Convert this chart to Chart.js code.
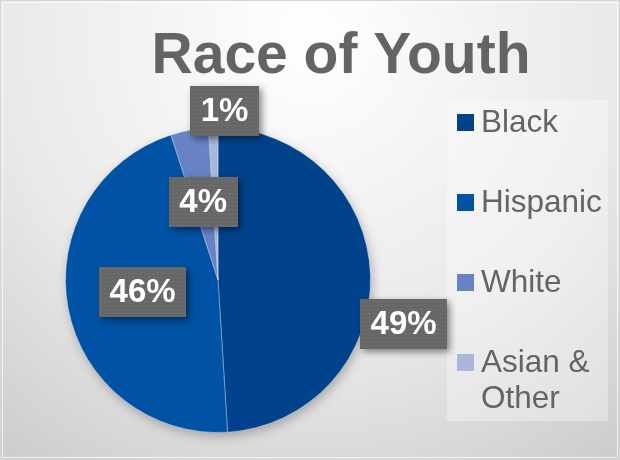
<!DOCTYPE html>
<html>
<head>
<meta charset="utf-8">
<script src="https://cdn.jsdelivr.net/npm/chart.js@4/dist/chart.umd.min.js"></script>
<style>
  body { margin: 0; background: #fff; }
  #wrap { width: 620px; height: 460px; }
</style>
</head>
<body>
<div id="wrap"><canvas id="pieChart" width="620" height="460"></canvas></div>
<script>
// chart data
var chartTitle = 'Race of Youth';
var categories = ['Black', 'Hispanic', 'White', 'Asian & Other'];
var shares = [49, 46, 4, 1];
var sliceColors = ['#00428b', '#0052a4', '#6783c4', '#a9b7db'];

var fontName = '"Liberation Sans", Arial, sans-serif';
var greyText = '#646464';

// where the % boxes sit: fraction of radius + angle shift (deg) from slice middle
var labelPlace = [
    { r: 1.25, shift: 15 },
    { r: 0.50, shift: 2 },
    { r: 0.52, shift: 0 },
    { r: 1.11, shift: 4 }
];

// dotted grey fill for the label boxes
function dotPattern(ctx) {
    var p = document.createElement('canvas');
    p.width = 4; p.height = 4;
    var pc = p.getContext('2d');
    pc.fillStyle = '#676767';
    pc.fillRect(0, 0, 4, 4);
    pc.fillStyle = '#7b7b7b';
    pc.fillRect(1, 1, 1, 1);
    return ctx.createPattern(p, 'repeat');
}

function wrapText(ctx, text, maxW) {
    var words = text.split(' ');
    var lines = [];
    var cur = '';
    for (var i = 0; i < words.length; i++) {
        var test = cur ? cur + ' ' + words[i] : words[i];
        if (cur && ctx.measureText(test).width > maxW) {
            lines.push(cur);
            cur = words[i];
        } else {
            cur = test;
        }
    }
    lines.push(cur);
    return lines;
}

var backdrop = {
    id: 'backdrop',
    beforeDraw: function(chart) {
        var ctx = chart.ctx;
        var w = chart.width, h = chart.height;
        ctx.save();
        var g = ctx.createRadialGradient(310, 40, 0, 310, 40, 560);
        g.addColorStop(0, '#ffffff');
        g.addColorStop(0.55, '#e9e9e9');
        g.addColorStop(1, '#c6c6c6');
        ctx.fillStyle = g;
        ctx.fillRect(0, 0, w, h);
        ctx.strokeStyle = '#d6d6d6';
        ctx.lineWidth = 1;
        ctx.strokeRect(0.5, 0.5, w - 1, h - 1);
        ctx.strokeStyle = 'rgba(255,255,255,0.7)';
        ctx.strokeRect(2.5, 2.5, w - 5, h - 5);

        // title
        ctx.fillStyle = greyText;
        ctx.font = 'bold 57px ' + fontName;
        ctx.textAlign = 'center';
        ctx.textBaseline = 'alphabetic';
        ctx.fillText(chartTitle, 341, 73);

        // legend panel
        ctx.fillStyle = 'rgba(255,255,255,0.32)';
        ctx.fillRect(447, 100, 161, 321);
        ctx.restore();
    },
    beforeDatasetsDraw: function(chart) {
        // soft shadow under the whole pie
        var arc = chart.getDatasetMeta(0).data[0];
        if (!arc) return;
        var ctx = chart.ctx;
        ctx.save();
        ctx.shadowColor = 'rgba(0,0,0,0.3)';
        ctx.shadowBlur = 12;
        ctx.shadowOffsetX = 2;
        ctx.shadowOffsetY = 4;
        ctx.fillStyle = sliceColors[0];
        ctx.beginPath();
        ctx.arc(arc.x, arc.y, arc.outerRadius - 1, 0, Math.PI * 2);
        ctx.fill();
        ctx.restore();
    },
    afterDatasetsDraw: function(chart) {
        var ctx = chart.ctx;
        var meta = chart.getDatasetMeta(0);
        var total = shares.reduce(function(a, b) { return a + b; }, 0);
        var pat = dotPattern(ctx);
        ctx.save();
        ctx.font = 'bold 33px ' + fontName;
        ctx.textAlign = 'center';
        ctx.textBaseline = 'middle';
        meta.data.forEach(function(arc, i) {
            var place = labelPlace[i];
            var mid = (arc.startAngle + arc.endAngle) / 2 + place.shift * Math.PI / 180;
            var x = arc.x + Math.cos(mid) * arc.outerRadius * place.r;
            var y = arc.y + Math.sin(mid) * arc.outerRadius * place.r;
            var txt = Math.round(shares[i] / total * 100) + '%';
            var bw = ctx.measureText(txt).width + 21;
            var bh = 50;
            ctx.save();
            ctx.shadowColor = 'rgba(0,0,0,0.45)';
            ctx.shadowBlur = 7;
            ctx.shadowOffsetX = 3;
            ctx.shadowOffsetY = 3;
            ctx.fillStyle = pat;
            ctx.fillRect(Math.round(x - bw / 2), Math.round(y - bh / 2), Math.round(bw), bh);
            ctx.restore();
            ctx.fillStyle = '#ffffff';
            ctx.fillText(txt, x, y + 1);
        });
        ctx.restore();
    },
    afterDraw: function(chart) {
        // legend on the right
        var ctx = chart.ctx;
        ctx.save();
        ctx.font = '31.5px ' + fontName;
        ctx.textAlign = 'left';
        ctx.textBaseline = 'middle';
        var y = 122;
        for (var i = 0; i < categories.length; i++) {
            ctx.fillStyle = sliceColors[i];
            ctx.fillRect(457, y - 8, 17, 17);
            ctx.fillStyle = greyText;
            var lines = wrapText(ctx, categories[i], 126);
            for (var k = 0; k < lines.length; k++) {
                ctx.fillText(lines[k], 481, y + 1 + k * 36.5);
            }
            y += 80;
        }
        ctx.restore();
    }
};

var ctx = document.getElementById('pieChart').getContext('2d');
var myChart = new Chart(ctx, {
    type: 'pie',
    data: {
        labels: categories,
        datasets: [{
            data: shares,
            backgroundColor: sliceColors,
            borderColor: 'rgba(255,255,255,0.35)',
            borderWidth: 1
        }]
    },
    options: {
        responsive: false,
        animation: false,
        layout: {
            padding: { left: 65, right: 249, top: 127, bottom: 27 }
        },
        plugins: {
            legend: { display: false },
            title: { display: false },
            tooltip: { enabled: false }
        }
    },
    plugins: [backdrop]
});
</script>
</body>
</html>
